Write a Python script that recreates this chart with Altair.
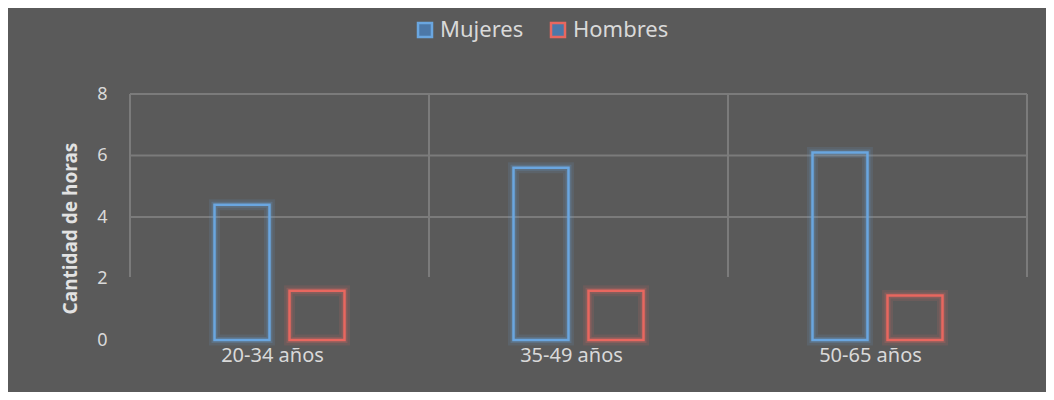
import altair as alt
import pandas as pd

categorias = ["20-34 años", "35-49 años", "50-65 años"]
series = ["Mujeres", "Hombres"]
mujeres = [4.4, 5.6, 6.1]
hombres = [1.6, 1.6, 1.45]
y_ticks = [0, 2, 4, 6, 8]
grid_h = [4, 6, 8]
colores = ["#6aa6e0", "#e8675f"]

rows = []
for c, m, h in zip(categorias, mujeres, hombres):
    rows.append({"cat": c, "serie": "Mujeres", "valor": m})
    rows.append({"cat": c, "serie": "Hombres", "valor": h})
df = pd.DataFrame(rows)

FONT = "Noto Sans"
TXT = "#d9d9d9"
GRID = "#7b7b7b"
BG = "#5a5a5a"
W, H = 897, 246

xscale = alt.Scale(domain=categorias, paddingInner=0, paddingOuter=0)
yscale = alt.Scale(domain=[0, 8], nice=False)

x_axis = alt.Axis(
    title=None,
    domain=False,
    ticks=False,
    grid=False,
    labelAngle=0,
    labelFont=FONT,
    labelFontSize=20,
    labelColor=TXT,
    labelPadding=5,
    labelOffset=-7,
)
y_axis = alt.Axis(
    values=y_ticks,
    title="Cantidad de horas",
    domain=False,
    ticks=False,
    grid=False,
    labelFont=FONT,
    labelFontSize=18,
    labelColor=TXT,
    labelPadding=23,
    titleFont=FONT,
    titleFontSize=19,
    titleFontWeight="bold",
    titleColor="#e2e2e2",
    titlePadding=16,
    titleY=134,
)

# horizontal gridlines
df_h = pd.DataFrame({"valor": grid_h})
hgrid = alt.Chart(df_h).mark_rule(color=GRID, strokeWidth=2).encode(
    y=alt.Y("valor:Q", scale=yscale, axis=y_axis)
)

# vertical gridlines at category boundaries
df_v = pd.DataFrame({"cat": categorias, "valor": [8] * 3, "bot": [2.05] * 3})
vgrid = alt.Chart(df_v).mark_rule(color=GRID, strokeWidth=2).encode(
    x=alt.X("cat:N", scale=xscale, sort=categorias, bandPosition=0, axis=x_axis),
    y=alt.Y("valor:Q", scale=yscale, axis=y_axis),
    y2="bot:Q",
)
vgrid_end = alt.Chart(df_v.iloc[-1:]).mark_rule(color=GRID, strokeWidth=2).encode(
    x=alt.X("cat:N", scale=xscale, sort=categorias, bandPosition=1, axis=x_axis),
    y=alt.Y("valor:Q", scale=yscale, axis=y_axis),
    y2="bot:Q",
)

stroke_enc = alt.Stroke(
    "serie:N",
    scale=alt.Scale(domain=series, range=colores),
    legend=alt.Legend(
        title=None,
        orient="none",
        legendX=284,
        legendY=-75,
        direction="horizontal",
        symbolType="square",
        symbolSize=196,
        symbolStrokeWidth=2.5,
        symbolFillColor=BG,
        symbolOpacity=1,
        labelFont=FONT,
        labelFontSize=22,
        labelColor=TXT,
        labelOffset=4,
        columnPadding=22,
    ),
)

base = alt.Chart(df).encode(
    x=alt.X("cat:N", scale=xscale, sort=categorias, axis=x_axis),
    xOffset=alt.XOffset(
        "serie:N",
        scale=alt.Scale(domain=series, range=[84.5, 214.5], paddingInner=0.267, paddingOuter=0),
    ),
    y=alt.Y("valor:Q", scale=yscale, axis=y_axis),
    stroke=stroke_enc,
)

glow_outer = base.mark_bar(fillOpacity=0, strokeWidth=11, strokeOpacity=0.12)
glow = base.mark_bar(fillOpacity=0, strokeWidth=6, strokeOpacity=0.22)
bars = base.mark_bar(fillOpacity=0, strokeWidth=2.5)

chart = (
    alt.layer(hgrid, vgrid, vgrid_end, glow_outer, glow, bars)
    .properties(
        width=W,
        height=H,
        autosize=alt.AutoSizeParams(type="none"),
        padding={"left": 122, "top": 86, "right": 19, "bottom": 52},
        background=BG,
    )
    .configure_view(stroke=None)
)

chart.save("out.html", embed_options={"renderer": "svg", "actions": False})
